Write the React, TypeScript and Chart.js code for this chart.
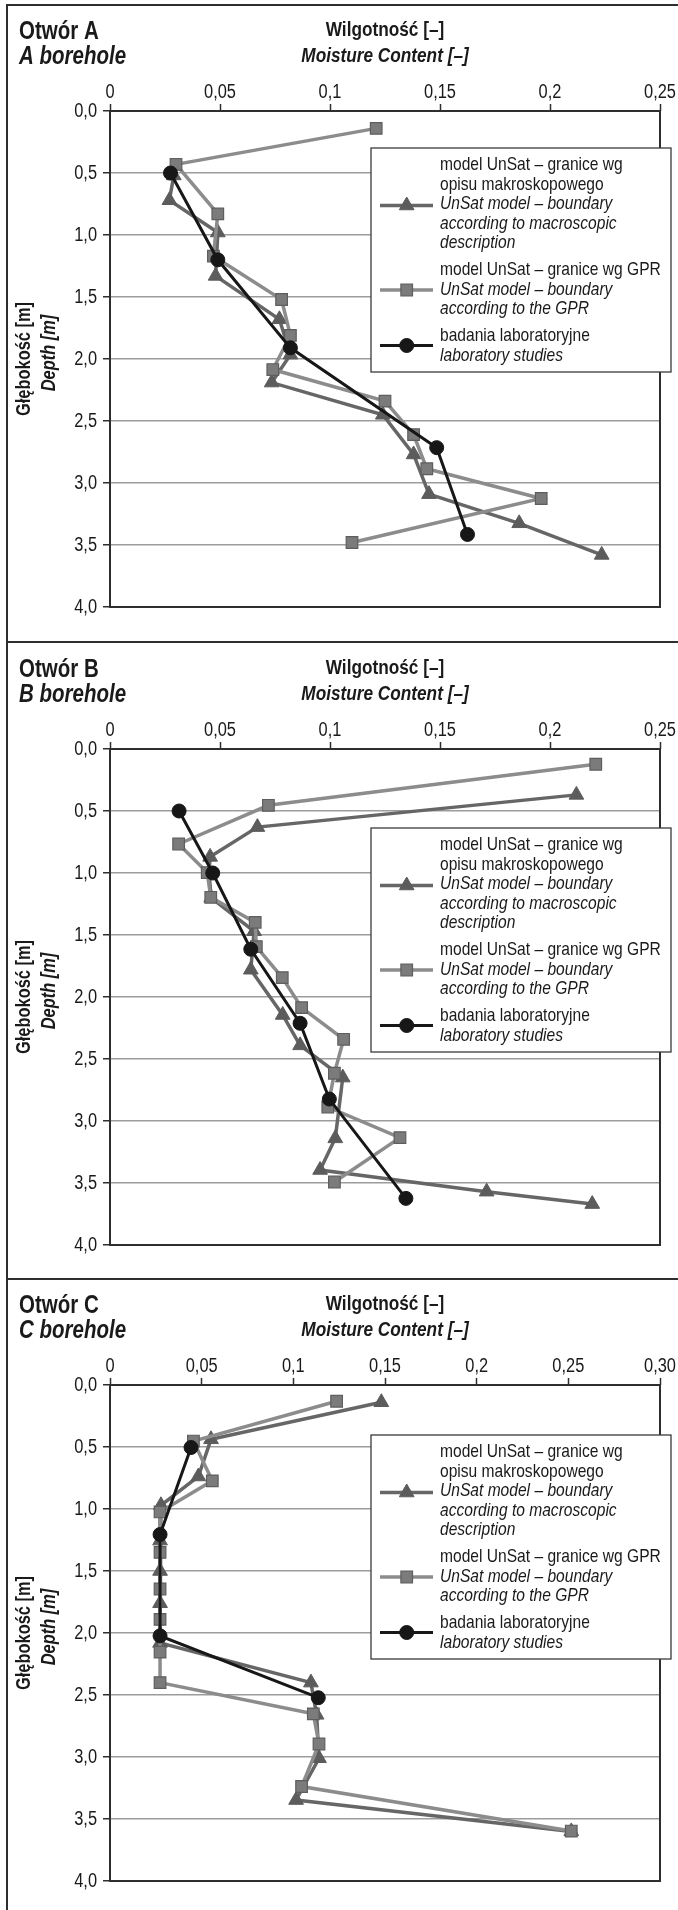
import React, { useEffect, useRef } from 'react';
import { Chart, registerables } from 'chart.js';

Chart.register(...registerables);

// ---------------- data ----------------
const xLabelsAB = ['0', '0,05', '0,1', '0,15', '0,2', '0,25'];
const xLabelsC = ['0', '0,05', '0,1', '0,15', '0,2', '0,25', '0,30'];
const yLabels = ['0,0', '0,5', '1,0', '1,5', '2,0', '2,5', '3,0', '3,5', '4,0'];

const axisTitlePl = 'Wilgotność [–]';
const axisTitleEn = 'Moisture Content [–]';
const yTitlePl = 'Głębokość [m]';
const yTitleEn = 'Depth [m]';

const legendMacro = ['model UnSat – granice wg', 'opisu makroskopowego', 'UnSat model – boundary', 'according to macroscopic', 'description'];
const legendGpr = ['model UnSat – granice wg GPR', 'UnSat model – boundary', 'according to the GPR'];
const legendLab = ['badania laboratoryjne', 'laboratory studies'];

// Borehole A
const aMacroDepth = [0.52, 0.72, 0.98, 1.33, 1.68, 1.965, 2.19, 2.45, 2.77, 3.09, 3.325, 3.58];
const aMacroMoist = [0.029, 0.027, 0.049, 0.048, 0.077, 0.082, 0.0735, 0.124, 0.138, 0.145, 0.186, 0.2235];
const aGprDepth = [0.14, 0.43, 0.83, 1.17, 1.52, 1.81, 2.085, 2.34, 2.61, 2.885, 3.125, 3.48];
const aGprMoist = [0.121, 0.030, 0.049, 0.047, 0.078, 0.082, 0.074, 0.125, 0.138, 0.144, 0.196, 0.110];
const aLabDepth = [0.5, 1.2, 1.91, 2.715, 3.415];
const aLabMoist = [0.0275, 0.049, 0.082, 0.1485, 0.1625];

// Borehole B
const bMacroDepth = [0.37, 0.63, 0.87, 1.0, 1.2, 1.47, 1.78, 2.145, 2.39, 2.65, 3.14, 3.395, 3.57, 3.67];
const bMacroMoist = [0.212, 0.067, 0.0455, 0.045, 0.046, 0.0655, 0.064, 0.0785, 0.0864, 0.1058, 0.1024, 0.0955, 0.1712, 0.2192];
const bGprDepth = [0.123, 0.454, 0.766, 0.997, 1.196, 1.398, 1.594, 1.844, 2.086, 2.341, 2.615, 2.887, 3.134, 3.492];
const bGprMoist = [0.2208, 0.072, 0.0312, 0.0442, 0.0458, 0.066, 0.0665, 0.0783, 0.0871, 0.1062, 0.102, 0.099, 0.1318, 0.102];
const bLabDepth = [0.5, 1.0, 1.615, 2.212, 2.823, 3.624];
const bLabMoist = [0.0314, 0.0467, 0.064, 0.0864, 0.0997, 0.1345];

// Borehole C
const cMacroDepth = [0.139, 0.438, 0.738, 0.97, 1.255, 1.5, 1.76, 2.08, 2.4, 2.66, 3.01, 3.347, 3.6];
const cMacroMoist = [0.148, 0.0551, 0.0482, 0.0278, 0.0273, 0.0273, 0.0273, 0.0273, 0.1096, 0.1127, 0.114, 0.1015, 0.2516];
const cGprDepth = [0.131, 0.452, 0.773, 1.024, 1.35, 1.645, 1.89, 2.154, 2.4, 2.652, 2.895, 3.238, 3.597];
const cGprMoist = [0.1236, 0.0455, 0.0558, 0.0273, 0.0273, 0.0273, 0.0273, 0.0273, 0.0273, 0.1109, 0.114, 0.1045, 0.2516];
const cLabDepth = [0.504, 1.206, 2.023, 2.522];
const cLabMoist = [0.0442, 0.0273, 0.0273, 0.1136];

// ---------------- layout / style ----------------
const PAGE_W = 678;
const PAGE_H = 1910;
const PLOT_H = 496;
const Y_AXIS_W = 110;
const RIGHT_PAD = 18;
const X_STEP = 0.05;
const Y_STEP = 0.5;

const COL_MACRO_LINE = '#666666';
const COL_MACRO_PT = '#5c5c5c';
const COL_GPR_LINE = '#8c8c8c';
const COL_GPR_PT = '#7b7b7b';
const COL_GPR_PT_BORDER = '#5e5e5e';
const COL_LAB = '#171717';
const COL_TEXT = '#1a1a1a';
const COL_FRAME = '#2e2e2e';

let FAMILY = "'Liberation Sans', Arial, sans-serif";
let SX = 0.82;
let fontInit = false;

function initFont() {
  if (fontInit) return;
  fontInit = true;
  const ctx = document.createElement('canvas').getContext('2d');
  if (!ctx) return;
  const probe = 'Wilgotność model UnSat 0,05 Depth';
  ctx.font = '40px monospace';
  const mono = ctx.measureText(probe).width;
  ctx.font = "40px 'Liberation Sans', monospace";
  const lib = ctx.measureText(probe).width;
  const cands = ['Liberation Sans Narrow', 'Arial Narrow', 'Nimbus Sans Narrow'];
  for (const c of cands) {
    ctx.font = `40px '${c}', monospace`;
    const w = ctx.measureText(probe).width;
    if (Math.abs(w - mono) > 1) {
      FAMILY = `'${c}', sans-serif`;
      SX = (0.82 * lib) / w;
      return;
    }
  }
  FAMILY = "'Liberation Sans', Arial, sans-serif";
  SX = 0.82;
}

type TxtOpts = {
  size: number;
  weight?: string;
  italic?: boolean;
  align?: CanvasTextAlign;
  baseline?: CanvasTextBaseline;
  rotate?: number;
  color?: string;
};

function txt(ctx: CanvasRenderingContext2D, s: string, x: number, y: number, o: TxtOpts) {
  ctx.save();
  ctx.font = `${o.italic ? 'italic ' : ''}${o.weight || 'normal'} ${o.size}px ${FAMILY}`;
  ctx.fillStyle = o.color || COL_TEXT;
  ctx.textAlign = o.align || 'left';
  ctx.textBaseline = o.baseline || 'alphabetic';
  ctx.translate(x, y);
  if (o.rotate) ctx.rotate(o.rotate);
  ctx.scale(SX, 1);
  ctx.fillText(s, 0, 0);
  ctx.restore();
}

type MarkerStyle = 'triangle' | 'rect' | 'circle';

function drawMarker(ctx: CanvasRenderingContext2D, style: MarkerStyle, x: number, y: number, r: number, fill: string, stroke: string, bw: number) {
  ctx.save();
  ctx.fillStyle = fill;
  ctx.strokeStyle = stroke;
  ctx.lineWidth = bw;
  ctx.beginPath();
  if (style === 'triangle') {
    ctx.moveTo(x, y - r);
    ctx.lineTo(x + 0.866 * r, y + 0.5 * r);
    ctx.lineTo(x - 0.866 * r, y + 0.5 * r);
    ctx.closePath();
  } else if (style === 'rect') {
    const h = Math.SQRT1_2 * r;
    ctx.rect(x - h, y - h, 2 * h, 2 * h);
  } else {
    ctx.arc(x, y, r, 0, Math.PI * 2);
  }
  ctx.fill();
  if (bw > 0) ctx.stroke();
  ctx.restore();
}

type PanelCfg = {
  key: string;
  title: string;
  subtitle: string;
  xMax: number;
  xLabels: string[];
  canvasH: number;
  plotTop: number;
  frameTop: number;
  legendTop: number;
  macro: [number[], number[]];
  gpr: [number[], number[]];
  lab: [number[], number[]];
};

const panels: PanelCfg[] = [
  {
    key: 'A', title: 'Otwór A', subtitle: 'A borehole', xMax: 0.25, xLabels: xLabelsAB,
    canvasH: 641, plotTop: 111, frameTop: 5, legendTop: 148,
    macro: [aMacroMoist, aMacroDepth], gpr: [aGprMoist, aGprDepth], lab: [aLabMoist, aLabDepth],
  },
  {
    key: 'B', title: 'Otwór B', subtitle: 'B borehole', xMax: 0.25, xLabels: xLabelsAB,
    canvasH: 637, plotTop: 108, frameTop: 1, legendTop: 187,
    macro: [bMacroMoist, bMacroDepth], gpr: [bGprMoist, bGprDepth], lab: [bLabMoist, bLabDepth],
  },
  {
    key: 'C', title: 'Otwór C', subtitle: 'C borehole', xMax: 0.3, xLabels: xLabelsC,
    canvasH: PAGE_H - 641 - 637, plotTop: 107, frameTop: 1, legendTop: 157,
    macro: [cMacroMoist, cMacroDepth], gpr: [cGprMoist, cGprDepth], lab: [cLabMoist, cLabDepth],
  },
];

function zip(s: [number[], number[]]) {
  return s[0].map((m, i) => ({ x: m, y: s[1][i] }));
}

function makeDecor(p: PanelCfg) {
  return {
    id: 'decor' + p.key,
    beforeDatasetsDraw(chart: any) {
      const ctx: CanvasRenderingContext2D = chart.ctx;
      const a = chart.chartArea;
      ctx.save();
      ctx.strokeStyle = COL_FRAME;
      ctx.lineWidth = 2;
      ctx.strokeRect(a.left, a.top, a.right - a.left, a.bottom - a.top);
      ctx.restore();
    },
    afterDraw(chart: any) {
      const ctx: CanvasRenderingContext2D = chart.ctx;
      const a = chart.chartArea;
      const H = p.canvasH;
      ctx.save();
      // panel frame
      ctx.strokeStyle = COL_FRAME;
      ctx.lineWidth = 2;
      ctx.beginPath();
      ctx.moveTo(7, p.frameTop);
      ctx.lineTo(7, H);
      ctx.moveTo(6, p.frameTop);
      ctx.lineTo(PAGE_W, p.frameTop);
      ctx.stroke();
      ctx.restore();

      // titles
      txt(ctx, p.title, 19, a.top - 72, { size: 25, weight: 'bold' });
      txt(ctx, p.subtitle, 19, a.top - 47, { size: 25, weight: 'bold', italic: true });
      const cx = (a.left + a.right) / 2;
      txt(ctx, axisTitlePl, cx, a.top - 75, { size: 21, weight: 'bold', align: 'center' });
      txt(ctx, axisTitleEn, cx, a.top - 49, { size: 21, weight: 'bold', italic: true, align: 'center' });

      // tick labels (by tick value)
      const xs = chart.scales.x;
      xs.ticks.forEach((t: any) => {
        const lab = p.xLabels[Math.round(t.value / X_STEP)];
        if (lab !== undefined) txt(ctx, lab, xs.getPixelForValue(t.value), a.top - 13, { size: 20, align: 'center' });
      });
      const ys = chart.scales.y;
      ys.ticks.forEach((t: any) => {
        const lab = yLabels[Math.round(t.value / Y_STEP)];
        if (lab !== undefined) txt(ctx, lab, a.left - 13, ys.getPixelForValue(t.value), { size: 20, align: 'right', baseline: 'middle' });
      });

      // y axis title
      const cy = (a.top + a.bottom) / 2;
      txt(ctx, yTitlePl, 24, cy, { size: 20, weight: 'bold', align: 'center', baseline: 'middle', rotate: -Math.PI / 2 });
      txt(ctx, yTitleEn, 49, cy - 6, { size: 20, weight: 'bold', italic: true, align: 'center', baseline: 'middle', rotate: -Math.PI / 2 });

      // legend
      const L = 371, T = p.legendTop, W = 300, LH = 224;
      ctx.save();
      ctx.fillStyle = '#ffffff';
      ctx.fillRect(L, T, W, LH);
      ctx.strokeStyle = '#3a3a3a';
      ctx.lineWidth = 1.3;
      ctx.strokeRect(L, T, W, LH);
      ctx.restore();
      const entries = [
        { lines: legendMacro, italicFrom: 2, ys: [17, 36.5, 56, 75.5, 95], my: 57.5, line: COL_MACRO_LINE, style: 'triangle' as MarkerStyle, r: 8.5, fill: COL_MACRO_PT, stroke: COL_MACRO_PT, bw: 1, lw: 3.5 },
        { lines: legendGpr, italicFrom: 1, ys: [122, 141.5, 161], my: 142, line: COL_GPR_LINE, style: 'rect' as MarkerStyle, r: 8.2, fill: COL_GPR_PT, stroke: COL_GPR_PT_BORDER, bw: 1.2, lw: 3.5 },
        { lines: legendLab, italicFrom: 1, ys: [188, 207.5], my: 197.5, line: COL_LAB, style: 'circle' as MarkerStyle, r: 7, fill: COL_LAB, stroke: COL_LAB, bw: 1, lw: 3 },
      ];
      entries.forEach((e) => {
        const my = T + e.my;
        ctx.save();
        ctx.strokeStyle = e.line;
        ctx.lineWidth = e.lw;
        ctx.beginPath();
        ctx.moveTo(L + 9, my);
        ctx.lineTo(L + 62, my);
        ctx.stroke();
        ctx.restore();
        drawMarker(ctx, e.style, L + 35.7, my, e.r, e.fill, e.stroke, e.bw);
        e.lines.forEach((s, i) => {
          txt(ctx, s, L + 69, T + e.ys[i], { size: 19, italic: i >= e.italicFrom, baseline: 'middle' });
        });
      });
    },
  };
}

function PanelChart({ p }: { p: PanelCfg }) {
  const ref = useRef<HTMLCanvasElement>(null);
  useEffect(() => {
    initFont();
    const canvas = ref.current;
    if (!canvas) return;
    const chart = new Chart(canvas, {
      type: 'scatter',
      data: {
        datasets: [
          {
            label: 'lab', data: zip(p.lab), showLine: true, order: 0,
            borderColor: COL_LAB, backgroundColor: COL_LAB, borderWidth: 3,
            pointStyle: 'circle', pointRadius: 7, pointBackgroundColor: COL_LAB, pointBorderColor: COL_LAB, pointBorderWidth: 1,
          },
          {
            label: 'gpr', data: zip(p.gpr), showLine: true, order: 1,
            borderColor: COL_GPR_LINE, backgroundColor: COL_GPR_PT, borderWidth: 3.5,
            pointStyle: 'rect', pointRadius: 8.2, pointBackgroundColor: COL_GPR_PT, pointBorderColor: COL_GPR_PT_BORDER, pointBorderWidth: 1.2,
          },
          {
            label: 'macro', data: zip(p.macro), showLine: true, order: 2,
            borderColor: COL_MACRO_LINE, backgroundColor: COL_MACRO_PT, borderWidth: 3.5,
            pointStyle: 'triangle', pointRadius: 8.5, pointBackgroundColor: COL_MACRO_PT, pointBorderColor: COL_MACRO_PT, pointBorderWidth: 1,
          },
        ] as any,
      },
      options: {
        responsive: false,
        animation: false,
        devicePixelRatio: 1,
        layout: { padding: { left: 0, top: 0, right: RIGHT_PAD, bottom: p.canvasH - p.plotTop - PLOT_H } },
        plugins: { legend: { display: false }, tooltip: { enabled: false } },
        scales: {
          x: {
            type: 'linear', position: 'top', min: 0, max: p.xMax,
            ticks: { stepSize: X_STEP, display: false },
            grid: { drawOnChartArea: false, drawTicks: true, tickLength: 7, tickColor: COL_FRAME, tickWidth: 1.5 },
            border: { display: false },
            afterFit: (s: any) => { s.height = p.plotTop; },
          },
          y: {
            type: 'linear', reverse: true, min: 0, max: 4,
            ticks: { stepSize: Y_STEP, display: false },
            grid: { color: '#9c9c9c', lineWidth: 1.5, drawTicks: true, tickLength: 7, tickColor: COL_FRAME, tickWidth: 1.5 },
            border: { display: false },
            afterFit: (s: any) => { s.width = Y_AXIS_W; },
          },
        },
      } as any,
      plugins: [makeDecor(p)],
    });
    return () => chart.destroy();
  }, [p]);
  return <canvas ref={ref} width={PAGE_W} height={p.canvasH} style={{ display: 'block', width: PAGE_W, height: p.canvasH }} />;
}

export default function App() {
  return (
    <div style={{ position: 'absolute', left: 0, top: 0, width: PAGE_W, height: PAGE_H, background: '#ffffff', overflow: 'hidden' }}>
      {panels.map((p) => (
        <PanelChart key={p.key} p={p} />
      ))}
    </div>
  );
}
